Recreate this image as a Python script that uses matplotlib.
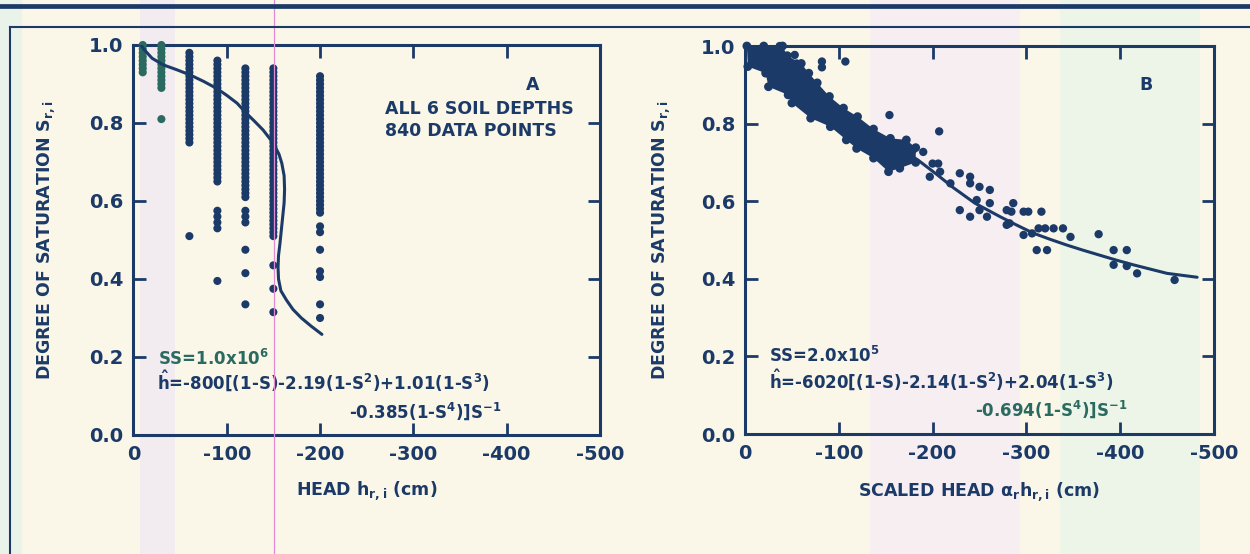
import matplotlib.pyplot as plt
from matplotlib.lines import Line2D
from matplotlib.patches import Rectangle

# Two-panel soil water retention figure (scanned report page):
# A = degree of saturation vs head, B = same vs scaled head.

plt.rcParams['font.family'] = 'DejaVu Sans'
plt.rcParams['font.weight'] = 'bold'
plt.rcParams['axes.labelweight'] = 'bold'
plt.rcParams['mathtext.fontset'] = 'custom'
plt.rcParams['mathtext.rm'] = 'DejaVu Sans:bold'
plt.rcParams['mathtext.it'] = 'DejaVu Sans:bold'
plt.rcParams['mathtext.bf'] = 'DejaVu Sans:bold'
plt.rcParams['mathtext.default'] = 'rm'

navy = '#1c3a68'
teal = '#2b6a60'
paper = '#faf6e8'

# -------------------------------------------------------------------------------------------------
# Data
# -------------------------------------------------------------------------------------------------

head_ticks = [0, -100, -200, -300, -400, -500]
head_labels = ['0', '-100', '-200', '-300', '-400', '-500']
sat_ticks = [0.0, 0.2, 0.4, 0.6, 0.8, 1.0]
sat_labels = ['0.0', '0.2', '0.4', '0.6', '0.8', '1.0']

# Panel A: measured points, one column per tensiometer head
head_a = [-10, -30, -60, -90, -120, -150, -200]
sat_a = [
    [1.00, 0.99, 0.98, 0.97, 0.96, 0.95, 0.94, 0.93],
    [1.00, 0.99, 0.98, 0.97, 0.96, 0.95, 0.94, 0.93, 0.92, 0.91, 0.90, 0.89, 0.81],
    [0.98, 0.97, 0.96, 0.95, 0.94, 0.93, 0.92, 0.91, 0.90, 0.89, 0.88, 0.87, 0.86,
     0.85, 0.84, 0.83, 0.82, 0.81, 0.80, 0.79, 0.78, 0.77, 0.76, 0.75, 0.51],
    [0.96, 0.95, 0.94, 0.93, 0.92, 0.91, 0.90, 0.89, 0.88, 0.87, 0.86, 0.85, 0.84,
     0.83, 0.82, 0.81, 0.80, 0.79, 0.78, 0.77, 0.76, 0.75, 0.74, 0.73, 0.72, 0.71,
     0.70, 0.69, 0.68, 0.67, 0.66, 0.65, 0.575, 0.56, 0.545, 0.53, 0.395],
    [0.94, 0.93, 0.92, 0.91, 0.90, 0.89, 0.88, 0.87, 0.86, 0.85, 0.84, 0.83, 0.82,
     0.81, 0.80, 0.79, 0.78, 0.77, 0.76, 0.75, 0.74, 0.73, 0.72, 0.71, 0.70, 0.69,
     0.68, 0.67, 0.66, 0.65, 0.64, 0.63, 0.62, 0.61, 0.575, 0.56, 0.545,
     0.475, 0.415, 0.335],
    [0.94, 0.93, 0.92, 0.91, 0.90, 0.89, 0.88, 0.87, 0.86, 0.85, 0.84, 0.83, 0.82,
     0.81, 0.80, 0.79, 0.78, 0.77, 0.76, 0.75, 0.74, 0.73, 0.72, 0.71, 0.70, 0.69,
     0.68, 0.67, 0.66, 0.65, 0.64, 0.63, 0.62, 0.61, 0.60, 0.59, 0.58, 0.57, 0.56,
     0.55, 0.54, 0.53, 0.52, 0.51, 0.435, 0.375, 0.315],
    [0.92, 0.91, 0.90, 0.89, 0.88, 0.87, 0.86, 0.85, 0.84, 0.83, 0.82, 0.81, 0.80,
     0.79, 0.78, 0.77, 0.76, 0.75, 0.74, 0.73, 0.72, 0.71, 0.70, 0.69, 0.68, 0.67,
     0.66, 0.65, 0.64, 0.63, 0.62, 0.61, 0.60, 0.59, 0.58, 0.57, 0.535, 0.52,
     0.475, 0.42, 0.405, 0.335, 0.30],
]
col_colors = [teal, teal, navy, navy, navy, navy, navy]

# Panel A: fitted curve
curve_a_h = [-8, -12, -20, -32, -46, -61, -75, -89, -100, -111, -121, -130, -139,
             -150, -156, -159, -161.5, -162, -161.5, -160, -158.5, -157, -155.5,
             -155, -155.5, -158, -164, -171, -180, -190, -202]
curve_a_s = [1.0, 0.987, 0.966, 0.949, 0.937, 0.923, 0.907, 0.889, 0.871, 0.851,
             0.825, 0.804, 0.782, 0.748, 0.72, 0.697, 0.665, 0.63, 0.595, 0.56,
             0.525, 0.49, 0.46, 0.43, 0.40, 0.37, 0.346, 0.322, 0.30, 0.28, 0.258]

# Panel B: the dense band of points (upper edge left->right, lower edge right->left)
band_up_h = [-2, -20, -40, -45, -60, -68, -77, -90, -105, -120, -137, -155, -172, -182]
band_up_s = [1.0, 1.0, 1.0, 0.975, 0.955, 0.93, 0.905, 0.87, 0.84, 0.818, 0.786,
             0.762, 0.758, 0.738]
band_lo_h = [-182, -165, -153, -137, -119, -108, -91, -70, -50, -46, -25, -22, -3]
band_lo_s = [0.70, 0.685, 0.676, 0.711, 0.736, 0.758, 0.792, 0.814, 0.853, 0.874,
             0.895, 0.93, 0.947]

# Panel B: scattered points outside the band
pts_b_h = [-37, -53, -55, -82, -82, -107, -154, -207,
           -179, -190, -200, -206, -197, -208, -219, -229, -240, -240, -250, -261,
           -229, -240, -250, -258, -247, -261, -279, -284, -286, -297, -302, -316,
           -282, -279, -297, -306, -313, -320, -329, -339, -347, -311, -322,
           -377, -393, -407, -393, -407, -418, -458]
pts_b_s = [1.0, 0.977, 0.955, 0.96, 0.945, 0.96, 0.822, 0.78,
           0.732, 0.727, 0.697, 0.697, 0.663, 0.676, 0.646, 0.672, 0.663, 0.646,
           0.637, 0.629, 0.577, 0.56, 0.577, 0.56, 0.603, 0.595, 0.577, 0.573,
           0.595, 0.573, 0.573, 0.573, 0.543, 0.539, 0.513, 0.517, 0.53, 0.53,
           0.53, 0.53, 0.508, 0.474, 0.474, 0.515, 0.474, 0.474, 0.436, 0.433,
           0.414, 0.397]

# Panel B: fitted curve
curve_b_h = [0, -50, -100, -150, -185, -205, -222, -245, -272, -290, -307, -325,
             -343, -360, -378, -396, -414, -432, -450, -466, -482]
curve_b_s = [1.0, 0.915, 0.835, 0.76, 0.705, 0.668, 0.635, 0.595, 0.56, 0.538,
             0.518, 0.502, 0.487, 0.474, 0.461, 0.448, 0.436, 0.425, 0.414, 0.409,
             0.404]


# -------------------------------------------------------------------------------------------------
# Page background (scanned paper, colour fringes, frame rules)
# -------------------------------------------------------------------------------------------------

fig = plt.figure(figsize=(12.5, 5.54), dpi=100)
fig.patch.set_facecolor(paper)

for x0, w, c in [(0, 22, '#e4f3ea'), (140, 35, '#efe7f4'), (870, 150, '#f5ecf4'),
                 (1060, 140, '#e7f5e9')]:
    fig.add_artist(Rectangle((x0 / 1250, 0), w / 1250, 1, transform=fig.transFigure,
                             facecolor=c, edgecolor='none', alpha=0.7, zorder=0))
fig.add_artist(Line2D([274 / 1250, 274 / 1250], [0, 1], transform=fig.transFigure,
                      color='#e38ad6', lw=0.9, zorder=0.5))
fig.add_artist(Line2D([0, 1], [1 - 6 / 554, 1 - 6 / 554], transform=fig.transFigure,
                      color=navy, lw=3.4, zorder=1))
fig.add_artist(Line2D([10 / 1250, 1], [1 - 27 / 554, 1 - 27 / 554], transform=fig.transFigure,
                      color=navy, lw=1.5, zorder=1))
fig.add_artist(Line2D([10 / 1250, 10 / 1250], [0, 1 - 27 / 554], transform=fig.transFigure,
                      color=navy, lw=1.5, zorder=1))


def style_axes(ax):
    ax.set_xlim(0, -500)
    ax.set_ylim(0, 1.0)
    ax.set_xticks(head_ticks)
    ax.set_xticklabels(head_labels)
    ax.set_yticks(sat_ticks)
    ax.set_yticklabels(sat_labels)
    ax.tick_params(direction='in', length=9, width=2, top=True, right=True,
                   colors=navy, labelsize=14, pad=7)
    for s in ax.spines.values():
        s.set_linewidth(2.2)
        s.set_color(navy)
    ax.set_facecolor('none')


# -------------------------------------------------------------------------------------------------
# Panel A
# -------------------------------------------------------------------------------------------------

axA = fig.add_axes([133.4 / 1250, 1 - 435 / 554, 466.6 / 1250, 390 / 554])
style_axes(axA)
for h, svals, c in zip(head_a, sat_a, col_colors):
    axA.scatter([h] * len(svals), svals, s=34, color=c, edgecolors='none',
                zorder=3, clip_on=False)
axA.plot(curve_a_h, curve_a_s, color=navy, lw=2.2, zorder=4, solid_capstyle='round')

axA.text(-428, 0.897, 'A', ha='center', va='center', fontsize=12.5, color=navy)
axA.text(-270, 0.835, 'ALL 6 SOIL DEPTHS', ha='left', va='center', fontsize=12.5, color=navy)
axA.text(-270, 0.78, '840 DATA POINTS', ha='left', va='center', fontsize=12.5, color=navy)
axA.text(-26, 0.195, r'SS=1.0x10$^6$', ha='left', va='center', fontsize=12, color=teal)
axA.text(-25, 0.137, r'$\hat{h}$=-800[(1-S)-2.19(1-S$^2$)+1.01(1-S$^3$)',
         ha='left', va='center', fontsize=12, color=navy)
axA.text(-395, 0.06, r'-0.385(1-S$^4$)]S$^{-1}$', ha='right', va='center',
         fontsize=12, color=navy)

axA.set_xlabel(r'HEAD h$_{r,i}$ (cm)', fontsize=12.5, color=navy)
axA.set_ylabel(r'DEGREE OF SATURATION S$_{r,i}$', fontsize=12.5, color=navy)
axA.xaxis.set_label_coords(0.5, -0.113)
axA.yaxis.set_label_coords(-0.164, 0.5)

# -------------------------------------------------------------------------------------------------
# Panel B
# -------------------------------------------------------------------------------------------------

axB = fig.add_axes([745 / 1250, 1 - 434 / 554, 469 / 1250, 388 / 554])
style_axes(axB)
axB.fill(band_up_h + band_lo_h, band_up_s + band_lo_s, color=navy, lw=0, zorder=3)
axB.scatter(band_up_h + band_lo_h, band_up_s + band_lo_s, s=40, color=navy,
            edgecolors='none', zorder=3, clip_on=False)
axB.scatter(pts_b_h, pts_b_s, s=36, color=navy, edgecolors='none', zorder=3, clip_on=False)
axB.plot(curve_b_h, curve_b_s, color=navy, lw=2.2, zorder=4, solid_capstyle='round')

axB.text(-427, 0.90, 'B', ha='center', va='center', fontsize=12.5, color=navy)
axB.text(-26, 0.20, r'SS=2.0x10$^5$', ha='left', va='center', fontsize=12, color=navy)
axB.text(-26, 0.137, r'$\hat{h}$=-6020[(1-S)-2.14(1-S$^2$)+2.04(1-S$^3$)',
         ha='left', va='center', fontsize=12, color=navy)
axB.text(-408, 0.064, r'-0.694(1-S$^4$)]S$^{-1}$', ha='right', va='center',
         fontsize=12, color=teal)

axB.set_xlabel(r'SCALED HEAD $\alpha_r$h$_{r,i}$ (cm)', fontsize=12.5, color=navy)
axB.set_ylabel(r'DEGREE OF SATURATION S$_{r,i}$', fontsize=12.5, color=navy)
axB.xaxis.set_label_coords(0.5, -0.118)
axB.yaxis.set_label_coords(-0.156, 0.5)

fig.savefig('out.png', dpi=100, facecolor=fig.get_facecolor())
